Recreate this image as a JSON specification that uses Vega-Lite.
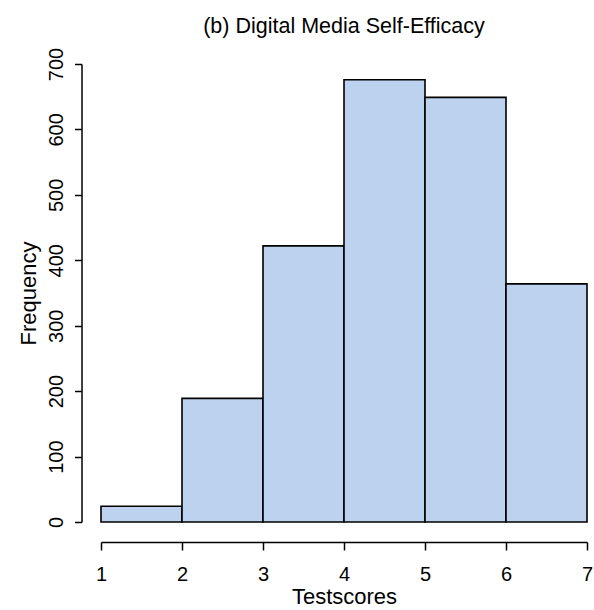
{
  "$schema": "https://vega.github.io/schema/vega-lite/v6.json",
  "autosize": {"type": "none"},
  "padding": {"left": 101, "top": 64, "right": 7, "bottom": 88},
  "width": 486,
  "height": 458,
  "background": "white",
  "title": {
    "text": "(b) Digital Media Self-Efficacy",
    "anchor": "middle",
    "frame": "group",
    "font": "Liberation Sans",
    "fontSize": 21.5,
    "fontWeight": "normal",
    "color": "black",
    "baseline": "alphabetic",
    "offset": -7
  },
  "data": {
    "values": [
      {"bin_start": 1, "bin_end": 2, "count": 24},
      {"bin_start": 2, "bin_end": 3, "count": 189},
      {"bin_start": 3, "bin_end": 4, "count": 422},
      {"bin_start": 4, "bin_end": 5, "count": 676},
      {"bin_start": 5, "bin_end": 6, "count": 649},
      {"bin_start": 6, "bin_end": 7, "count": 364}
    ]
  },
  "mark": {"type": "rect", "fill": "#BCD2EE", "stroke": "black", "strokeWidth": 1.6},
  "encoding": {
    "x": {
      "field": "bin_start",
      "type": "quantitative",
      "scale": {"domain": [1, 7], "nice": false, "zero": false},
      "axis": {
        "title": "Testscores",
        "values": [1, 2, 3, 4, 5, 6, 7],
        "offset": 20,
        "grid": false,
        "domainColor": "black",
        "domainWidth": 1.5,
        "tickColor": "black",
        "tickWidth": 1.5,
        "tickSize": 8,
        "labelFont": "Liberation Sans",
        "labelFontSize": 20,
        "labelColor": "black",
        "labelPadding": 14,
        "labelBaseline": "top",
        "labelFlush": false,
        "titleFont": "Liberation Sans",
        "titleFontSize": 22,
        "titleFontWeight": "normal",
        "titleColor": "black",
        "titlePadding": 2
      }
    },
    "x2": {"field": "bin_end"},
    "y": {
      "field": "count",
      "type": "quantitative",
      "scale": {"domain": [0, 700], "nice": false},
      "axis": {
        "title": "Frequency",
        "values": [0, 100, 200, 300, 400, 500, 600, 700],
        "offset": 19.5,
        "grid": false,
        "domainColor": "black",
        "domainWidth": 1.5,
        "tickColor": "black",
        "tickWidth": 1.5,
        "tickSize": 7,
        "labelFont": "Liberation Sans",
        "labelFontSize": 20,
        "labelColor": "black",
        "labelAngle": -90,
        "labelAlign": "center",
        "labelBaseline": "bottom",
        "labelPadding": 8,
        "labelFlush": false,
        "titleFont": "Liberation Sans",
        "titleFontSize": 22,
        "titleFontWeight": "normal",
        "titleColor": "black",
        "titlePadding": 6
      }
    },
    "y2": {"datum": 0}
  },
  "config": {"view": {"stroke": null}}
}
